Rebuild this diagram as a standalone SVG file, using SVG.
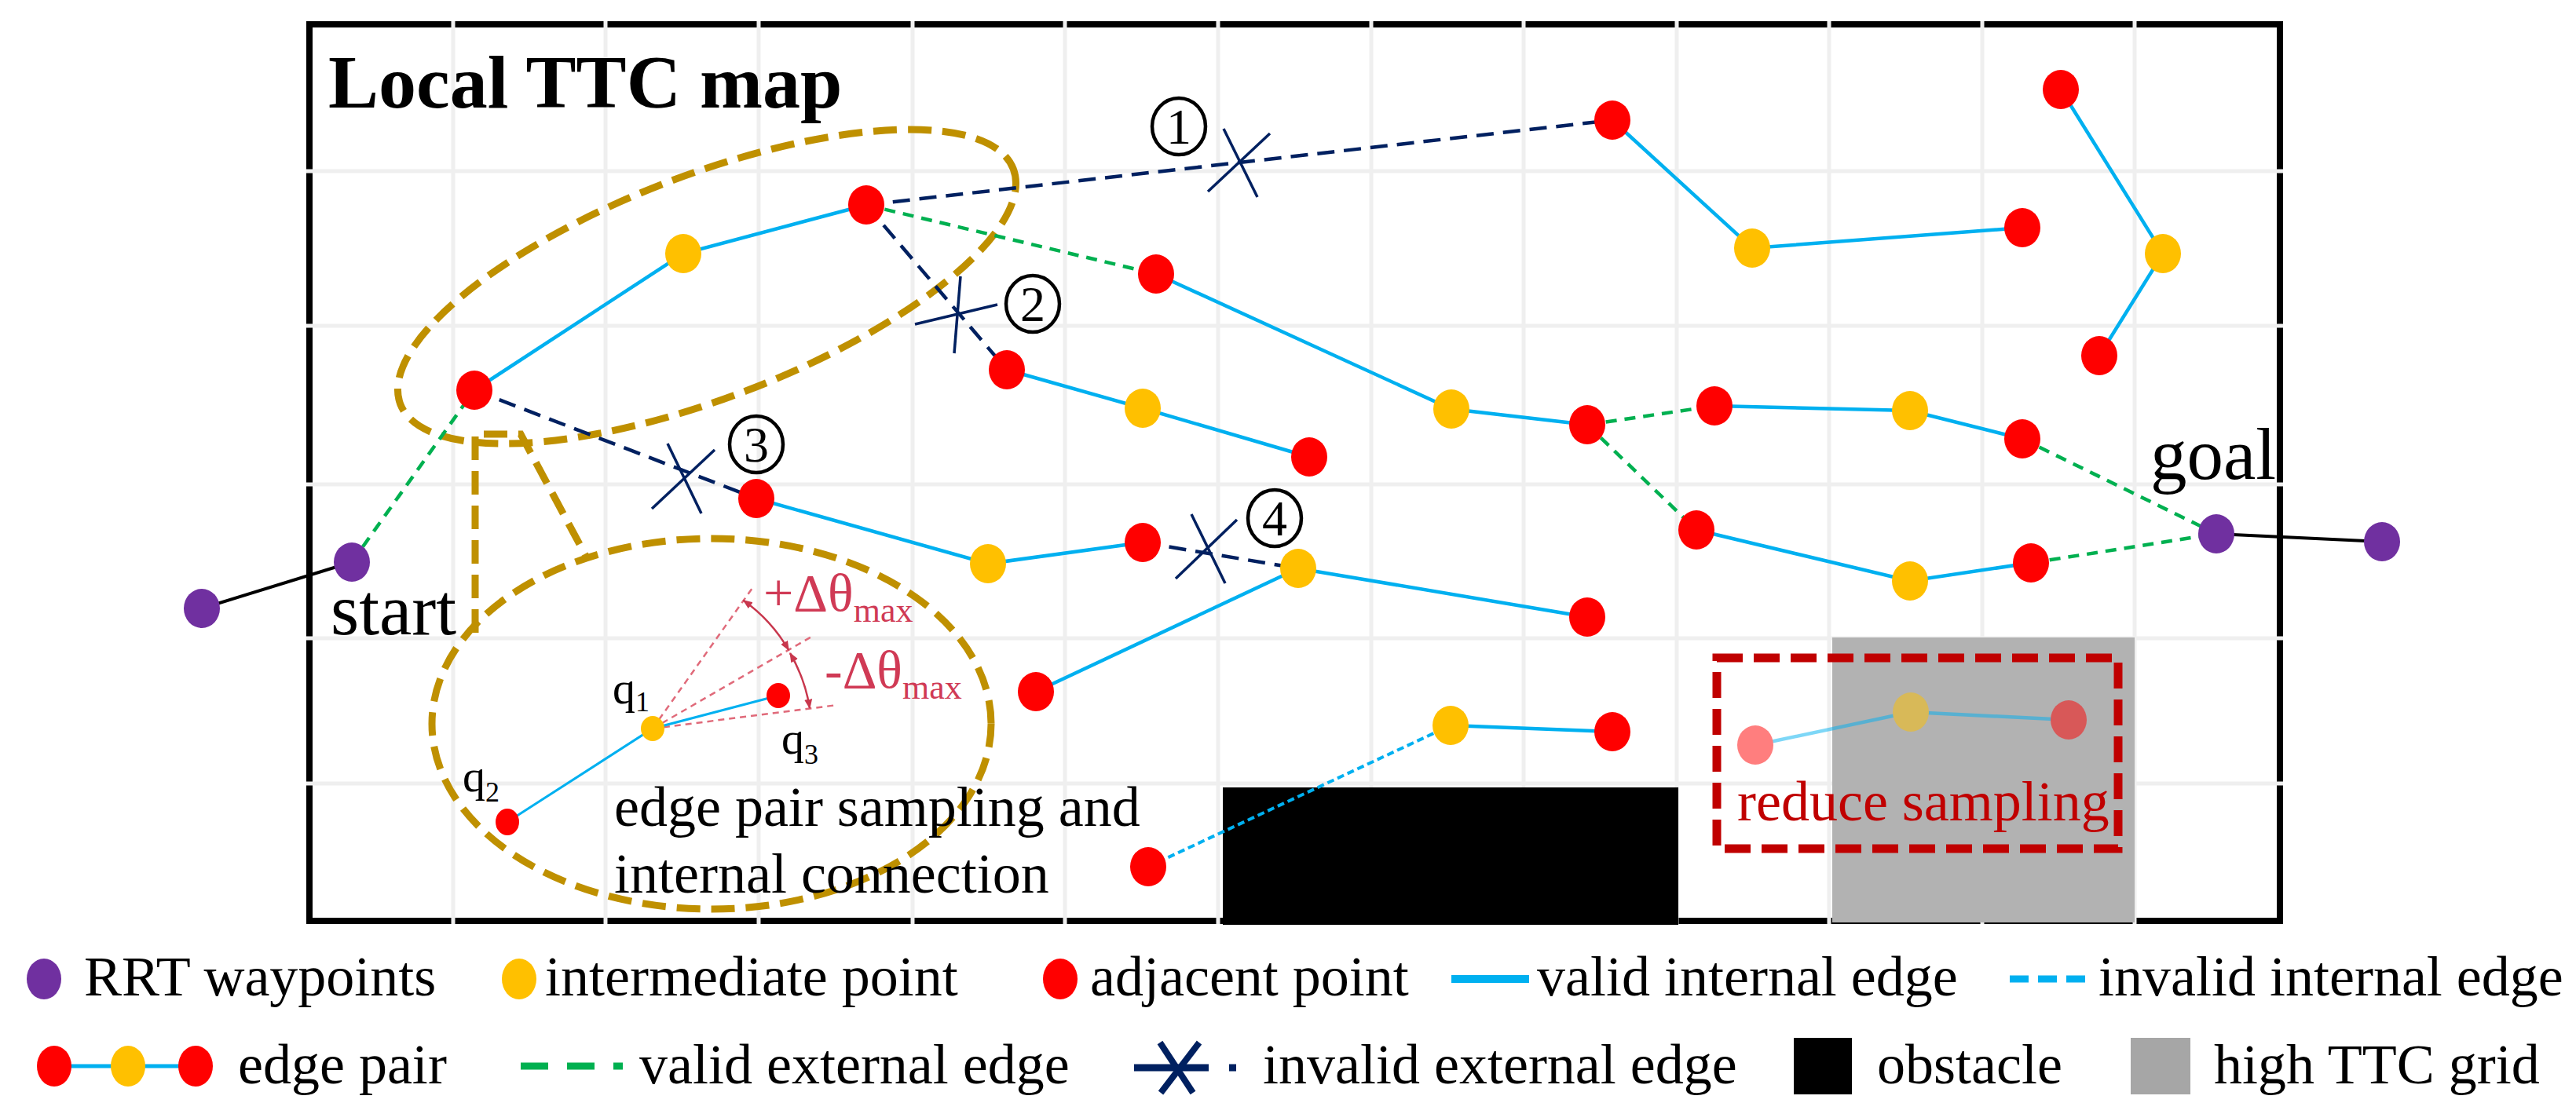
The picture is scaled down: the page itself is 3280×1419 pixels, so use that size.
<svg xmlns="http://www.w3.org/2000/svg" width="3280" height="1419" viewBox="0 0 3280 1419">
<defs>
<style>
.t{font-family:"Liberation Serif","Times New Roman",serif;fill:#000}
.grid{stroke:#EFEFEF;stroke-width:5}
.vi{stroke:#00B0F0;stroke-width:4.5;fill:none}
.ii{stroke:#00B0F0;stroke-width:4;stroke-dasharray:9 5}
.ve{stroke:#00B050;stroke-width:4.5;stroke-dasharray:14 10}
.ie{stroke:#002060;stroke-width:4.5;stroke-dasharray:22 12}
.bk{stroke:#000;stroke-width:4}
.xm{stroke:#002060;stroke-width:3.5}
.rrt{fill:#7030A0}
.mid{fill:#FFC000}
.adj{fill:#FF0000}
.gold{fill:none;stroke:#BF9000;stroke-width:9;stroke-dasharray:30 14}
.cn{fill:none;stroke:#000;stroke-width:4.5}
.ray{stroke:#E06A7A;stroke-width:2.5;stroke-dasharray:8 6}
.arc{fill:none;stroke:#C8374D;stroke-width:2.5;marker-start:url(#ah);marker-end:url(#ah)}
.red{fill:#D03A55}
</style>
<marker id="ah" viewBox="0 0 10 10" refX="9" refY="5" markerWidth="5" markerHeight="5" orient="auto-start-reverse" markerUnits="strokeWidth"><path d="M0,1 L10,5 L0,9 z" fill="#C8374D"/></marker>
</defs>
<rect width="3280" height="1419" fill="#fff"/>

<g id="map">
<rect x="394" y="31" width="2509" height="1142" fill="none" stroke="#000" stroke-width="8"/>
<g id="grid">
<line class="grid" x1="577" y1="27" x2="577" y2="1177"/>
<line class="grid" x1="771" y1="27" x2="771" y2="1177"/>
<line class="grid" x1="966" y1="27" x2="966" y2="1177"/>
<line class="grid" x1="1162" y1="27" x2="1162" y2="1177"/>
<line class="grid" x1="1356" y1="27" x2="1356" y2="1177"/>
<line class="grid" x1="1551" y1="27" x2="1551" y2="1177"/>
<line class="grid" x1="1746" y1="27" x2="1746" y2="1177"/>
<line class="grid" x1="1940" y1="27" x2="1940" y2="1177"/>
<line class="grid" x1="2135" y1="27" x2="2135" y2="1177"/>
<line class="grid" x1="2329" y1="27" x2="2329" y2="1177"/>
<line class="grid" x1="2524" y1="27" x2="2524" y2="1177"/>
<line class="grid" x1="2718" y1="27" x2="2718" y2="1177"/>
<line class="grid" x1="390" y1="218" x2="2907" y2="218"/>
<line class="grid" x1="390" y1="415" x2="2907" y2="415"/>
<line class="grid" x1="390" y1="617" x2="2907" y2="617"/>
<line class="grid" x1="390" y1="813" x2="2907" y2="813"/>
<line class="grid" x1="390" y1="998" x2="2907" y2="998"/>
</g>
<rect id="high-ttc" x="2333" y="812" width="385" height="363" fill="#B2B2B2"/>
<rect id="obstacle" x="1557" y="1003" width="580" height="175" fill="#000"/>
<text class="t" x="418" y="137" font-size="96" font-weight="bold">Local TTC map</text>
</g>

<g id="reduce-sampling">
<rect x="2186" y="838" width="511" height="243" fill="none" stroke="#C00000" stroke-width="11" stroke-dasharray="33 14"/>
<g opacity="0.5">
<polyline class="vi" points="2235,949 2433,907 2634,917"/>
<ellipse class="adj" cx="2235" cy="949" rx="23" ry="25"/>
<ellipse class="mid" cx="2433" cy="907" rx="23" ry="25"/>
<ellipse class="adj" cx="2634" cy="917" rx="23" ry="25"/>
</g>
<text class="t" x="2212" y="1045" font-size="72" style="fill:#C00000">reduce sampling</text>
</g>

<g id="edge-pair-zoom">
<ellipse class="gold" cx="900" cy="365" rx="418" ry="142" transform="rotate(-21 900 365)"/>
<polyline class="gold" points="605,806 605,553 663,553 748,712"/>
<ellipse class="gold" cx="906" cy="922" rx="356" ry="236"/>
<line class="ray" x1="831" y1="928" x2="958" y2="749"/>
<line class="ray" x1="831" y1="928" x2="1035" y2="810"/>
<line class="ray" x1="831" y1="928" x2="1066" y2="898"/>
<path class="arc" d="M946.6,764.7 A200,200 0 0 1 1004.2,828"/>
<path class="arc" d="M1006,832 A202,202 0 0 1 1031,902"/>
<polyline class="vi" style="stroke-width:3" points="646,1047 831,928 991,886"/>
<ellipse class="adj" cx="646" cy="1047" rx="15" ry="17"/>
<ellipse class="mid" cx="831" cy="928" rx="15" ry="16"/>
<ellipse class="adj" cx="991" cy="886" rx="15" ry="16"/>
<text class="t" x="780" y="896" font-size="58">q<tspan font-size="36" dy="10">1</tspan></text>
<text class="t" x="995" y="960" font-size="58">q<tspan font-size="36" dy="13">3</tspan></text>
<text class="t" x="589" y="1008" font-size="58">q<tspan font-size="36" dy="13">2</tspan></text>
<text class="t red" x="972" y="778" font-size="68">+Δθ<tspan font-size="44" dy="14">max</tspan></text>
<text class="t red" x="1050" y="876" font-size="68">-Δθ<tspan font-size="44" dy="14">max</tspan></text>
<text class="t" x="782" y="1052" font-size="72">edge pair sampling and</text>
<text class="t" x="782" y="1137" font-size="72">internal connection</text>
</g>

<g id="connectors">
<line class="bk" x1="257" y1="775" x2="448" y2="716"/>
<line class="bk" x1="2822" y1="680" x2="3033" y2="690"/>
<line class="ve" x1="448" y1="716" x2="604" y2="497"/>
<line class="ie" x1="604" y1="497" x2="963" y2="635"/>
<line class="ie" x1="1103" y1="261" x2="2053" y2="153"/>
<line class="ie" x1="1103" y1="261" x2="1282" y2="471"/>
<line class="ve" x1="1103" y1="261" x2="1472" y2="349"/>
<line class="ie" x1="1455" y1="691" x2="1653" y2="724"/>
<line class="ve" x1="2021" y1="541" x2="2183" y2="517"/>
<line class="ve" x1="2021" y1="541" x2="2160" y2="675"/>
<line class="ve" x1="2575" y1="559" x2="2822" y2="680"/>
<line class="ve" x1="2586" y1="717" x2="2822" y2="680"/>
<polyline class="vi" points="604,497 870,323 1103,261"/>
<polyline class="vi" points="1282,471 1455,520 1667,582"/>
<polyline class="vi" points="1472,349 1848,521 2021,541"/>
<polyline class="vi" points="2053,153 2231,316 2575,290"/>
<polyline class="vi" points="2624,114 2754,323 2673,453"/>
<polyline class="vi" points="2183,517 2432,523 2575,559"/>
<polyline class="vi" points="963,635 1258,718 1455,691"/>
<polyline class="vi" points="1319,881 1653,724 2021,786"/>
<polyline class="vi" points="2160,675 2432,740 2586,717"/>
<line class="vi" x1="1847" y1="924" x2="2053" y2="932"/>
<line class="ii" x1="1462" y1="1104" x2="1847" y2="924"/>
<g id="x1"><line class="xm" x1="1558" y1="164" x2="1601" y2="251"/><line class="xm" x1="1617" y1="170" x2="1538" y2="244"/></g>
<g id="x2"><line class="xm" x1="1223" y1="352" x2="1215" y2="450"/><line class="xm" x1="1165" y1="413" x2="1270" y2="388"/></g>
<g id="x3"><line class="xm" x1="850" y1="565" x2="893" y2="654"/><line class="xm" x1="910" y1="573" x2="830" y2="648"/></g>
<g id="x4"><line class="xm" x1="1517" y1="655" x2="1560" y2="743"/><line class="xm" x1="1575" y1="662" x2="1497" y2="737"/></g>
<g id="lbl1"><ellipse class="cn" cx="1501" cy="161" rx="34" ry="36"/><text class="t" x="1501" y="183" font-size="64" text-anchor="middle">1</text></g>
<g id="lbl2"><ellipse class="cn" cx="1315" cy="387" rx="34" ry="36"/><text class="t" x="1315" y="409" font-size="64" text-anchor="middle">2</text></g>
<g id="lbl3"><ellipse class="cn" cx="963" cy="566" rx="34" ry="36"/><text class="t" x="963" y="588" font-size="64" text-anchor="middle">3</text></g>
<g id="lbl4"><ellipse class="cn" cx="1623" cy="660" rx="34" ry="36"/><text class="t" x="1623" y="682" font-size="64" text-anchor="middle">4</text></g>
</g>

<g id="nodes">
<g id="start0"><ellipse class="rrt" cx="257" cy="775" rx="23" ry="25"/></g>
<g id="start"><ellipse class="rrt" cx="448" cy="716" rx="23" ry="25"/><text class="t" x="421" y="808" font-size="93">start</text></g>
<g id="goal"><ellipse class="rrt" cx="2822" cy="680" rx="23" ry="25"/><text class="t" x="2738" y="610" font-size="93">goal</text></g>
<g id="goal1"><ellipse class="rrt" cx="3033" cy="690" rx="23" ry="25"/></g>
<g id="a1"><ellipse class="adj" cx="604" cy="497" rx="23" ry="25"/></g>
<g id="i1"><ellipse class="mid" cx="870" cy="323" rx="23" ry="25"/></g>
<g id="a2"><ellipse class="adj" cx="1103" cy="261" rx="23" ry="25"/></g>
<g id="a3"><ellipse class="adj" cx="963" cy="635" rx="23" ry="25"/></g>
<g id="i2"><ellipse class="mid" cx="1258" cy="718" rx="23" ry="25"/></g>
<g id="a4"><ellipse class="adj" cx="1455" cy="691" rx="23" ry="25"/></g>
<g id="a5"><ellipse class="adj" cx="1282" cy="471" rx="23" ry="25"/></g>
<g id="i3"><ellipse class="mid" cx="1455" cy="520" rx="23" ry="25"/></g>
<g id="a6"><ellipse class="adj" cx="1667" cy="582" rx="23" ry="25"/></g>
<g id="a7"><ellipse class="adj" cx="1472" cy="349" rx="23" ry="25"/></g>
<g id="i4"><ellipse class="mid" cx="1848" cy="521" rx="23" ry="25"/></g>
<g id="a8"><ellipse class="adj" cx="2021" cy="541" rx="23" ry="25"/></g>
<g id="a9"><ellipse class="adj" cx="2053" cy="153" rx="23" ry="25"/></g>
<g id="i5"><ellipse class="mid" cx="2231" cy="316" rx="23" ry="25"/></g>
<g id="a10"><ellipse class="adj" cx="2575" cy="290" rx="23" ry="25"/></g>
<g id="a11"><ellipse class="adj" cx="2624" cy="114" rx="23" ry="25"/></g>
<g id="i6"><ellipse class="mid" cx="2754" cy="323" rx="23" ry="25"/></g>
<g id="a12"><ellipse class="adj" cx="2673" cy="453" rx="23" ry="25"/></g>
<g id="a13"><ellipse class="adj" cx="2183" cy="517" rx="23" ry="25"/></g>
<g id="i7"><ellipse class="mid" cx="2432" cy="523" rx="23" ry="25"/></g>
<g id="a14"><ellipse class="adj" cx="2575" cy="559" rx="23" ry="25"/></g>
<g id="a15"><ellipse class="adj" cx="2160" cy="675" rx="23" ry="25"/></g>
<g id="i8"><ellipse class="mid" cx="2432" cy="740" rx="23" ry="25"/></g>
<g id="a16"><ellipse class="adj" cx="2586" cy="717" rx="23" ry="25"/></g>
<g id="a17"><ellipse class="adj" cx="1319" cy="881" rx="23" ry="25"/></g>
<g id="i9"><ellipse class="mid" cx="1653" cy="724" rx="23" ry="25"/></g>
<g id="a18"><ellipse class="adj" cx="2021" cy="786" rx="23" ry="25"/></g>
<g id="a19"><ellipse class="adj" cx="1462" cy="1104" rx="23" ry="25"/></g>
<g id="i10"><ellipse class="mid" cx="1847" cy="924" rx="23" ry="25"/></g>
<g id="a20"><ellipse class="adj" cx="2053" cy="932" rx="23" ry="25"/></g>
</g>

<g id="legend">
<g id="lg-rrt"><ellipse class="rrt" cx="56" cy="1247" rx="22" ry="26"/><text class="t" x="107" y="1268" font-size="72">RRT waypoints</text></g>
<g id="lg-mid"><ellipse class="mid" cx="661" cy="1247" rx="22" ry="26"/><text class="t" x="694" y="1268" font-size="72">intermediate point</text></g>
<g id="lg-adj"><ellipse class="adj" cx="1350" cy="1247" rx="22" ry="26"/><text class="t" x="1388" y="1268" font-size="72">adjacent point</text></g>
<g id="lg-vi"><line x1="1848" y1="1247" x2="1947" y2="1247" stroke="#00B0F0" stroke-width="10"/><text class="t" x="1957" y="1268" font-size="72">valid internal edge</text></g>
<g id="lg-ii"><line x1="2559" y1="1247" x2="2655" y2="1247" stroke="#00B0F0" stroke-width="9" stroke-dasharray="24 12"/><text class="t" x="2672" y="1268" font-size="72">invalid internal edge</text></g>
<g id="lg-pair"><line x1="69" y1="1358" x2="249" y2="1358" stroke="#00B0F0" stroke-width="5"/><ellipse class="adj" cx="69" cy="1358" rx="22" ry="26"/><ellipse class="mid" cx="163" cy="1358" rx="22" ry="26"/><ellipse class="adj" cx="249" cy="1358" rx="22" ry="26"/><text class="t" x="303" y="1380" font-size="72">edge pair</text></g>
<g id="lg-ve"><line x1="663" y1="1358" x2="793" y2="1358" stroke="#00B050" stroke-width="9" stroke-dasharray="35 24"/><text class="t" x="814" y="1380" font-size="72">valid external edge</text></g>
<g id="lg-ie"><line x1="1444" y1="1360" x2="1539" y2="1360" stroke="#002060" stroke-width="9"/><line x1="1565" y1="1360" x2="1574" y2="1360" stroke="#002060" stroke-width="9"/><line x1="1477" y1="1328" x2="1519" y2="1392" stroke="#002060" stroke-width="8"/><line x1="1527" y1="1328" x2="1478" y2="1392" stroke="#002060" stroke-width="8"/><text class="t" x="1608" y="1380" font-size="72">invalid external edge</text></g>
<g id="lg-obs"><rect x="2284" y="1322" width="74" height="72" fill="#000"/><text class="t" x="2390" y="1380" font-size="72">obstacle</text></g>
<g id="lg-ttc"><rect x="2713" y="1322" width="76" height="72" fill="#A6A6A6"/><text class="t" x="2819" y="1380" font-size="72">high TTC grid</text></g>
</g>
</svg>
